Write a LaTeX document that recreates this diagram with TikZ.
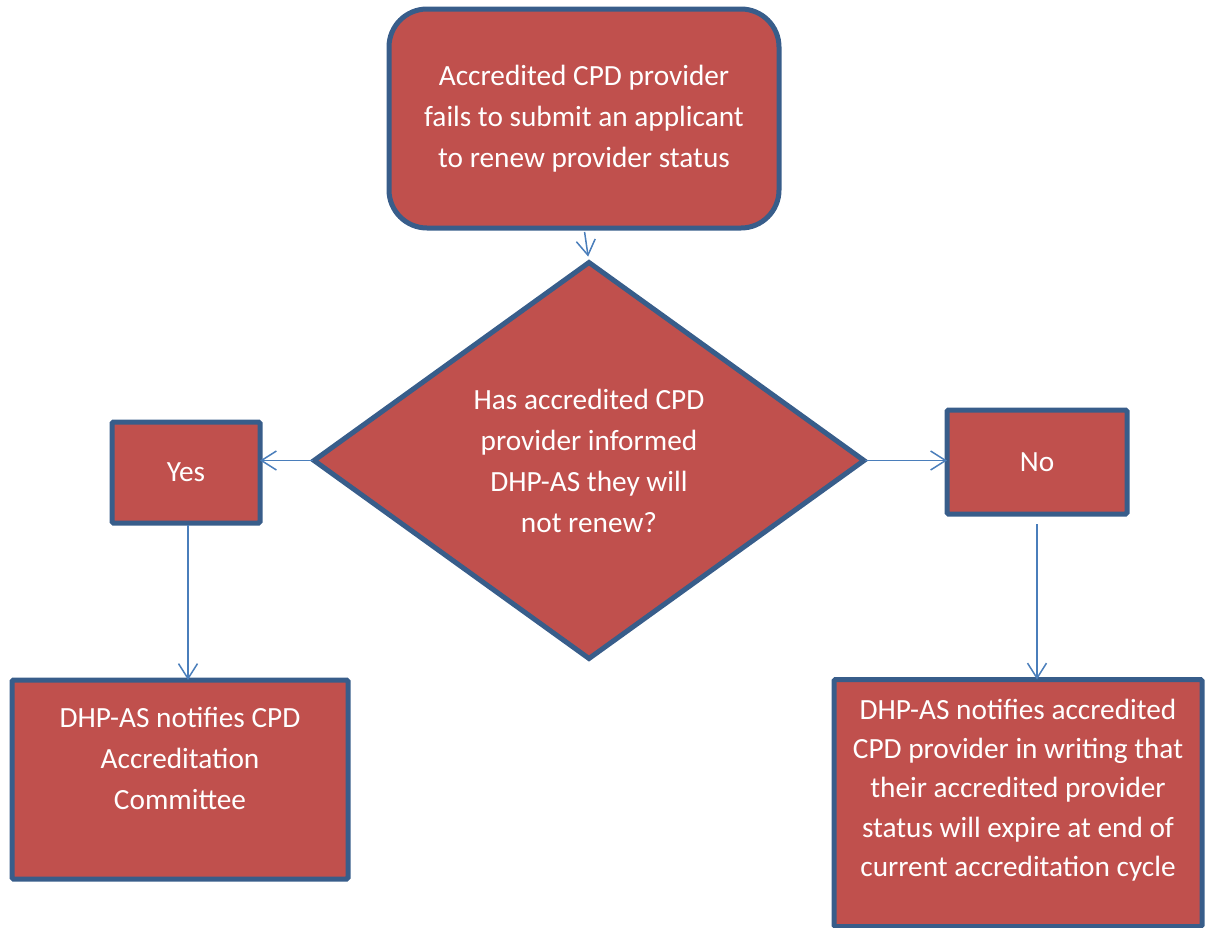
\documentclass[tikz,border=0pt]{standalone}
\usepackage{fontspec}
\setmainfont{Carlito}
\usetikzlibrary{shapes.geometric,arrows.meta}
\definecolor{boxfill}{RGB}{192,80,77}
\definecolor{boxline}{RGB}{56,93,138}
\definecolor{arrline}{RGB}{74,126,187}
\begin{document}
\begin{tikzpicture}[x=1pt,y=-1pt,
  every node/.style={outer sep=0pt, inner sep=0pt},
  txt/.style={text=white, font=\fontsize{29.3}{41}\selectfont, align=center},
  tighttxt/.style={text=white, font=\fontsize{29.3}{39.3}\selectfont, align=center},
  boxbase/.style={draw=boxline, fill=boxfill, line width=5pt},
  rbox/.style={boxbase, rectangle, rounded corners=1.5pt},
  startbox/.style={boxbase, rectangle, rounded corners=38pt},
  decision/.style={boxbase, diamond},
  arr/.style={draw=arrline, line width=1.5pt, -{Straight Barb[length=15pt,width=19pt,line width=1.5pt]}}
]
\useasboundingbox (0,0) rectangle (1212,927);

\node[startbox, minimum width=390, minimum height=219, txt] (start) at (584,118.5)
  {Accredited CPD provider\\fails to submit an applicant\\to renew provider status};

\node[decision, minimum width=550, minimum height=396, txt] (dia) at (589,460.5)
  {Has accredited CPD\\provider informed\\DHP-AS they will\\not renew?};

\node[rbox, minimum width=148, minimum height=101, txt] (yes) at (186,472.5) {Yes};
\node[rbox, minimum width=180, minimum height=104, txt] (no) at (1037,462) {No};

\node[rbox, minimum width=336, minimum height=199] (left) at (180,779.5) {};
\node[txt] (lefttxt) at (180,758) {DHP-AS notifies CPD\\Accreditation\\Committee};

\node[rbox, minimum width=368, minimum height=247] (right) at (1018,803) {};
\node[tighttxt] (righttxt) at (1018,790) {DHP-AS notifies accredited\\CPD provider in writing that\\their accredited provider\\status will expire at end of\\current accreditation cycle};

\draw[arr, shorten <=4pt, shorten >=6pt] (start.south) -- (dia.north);
\draw[arr, shorten <=1pt] (dia.west) -- (dia.west -| yes.east);
\draw[arr, shorten <=1pt] (dia.east) -- (dia.east -| no.west);
\draw[arr, shorten <=2pt] ([xshift=2pt]yes.south) -- ([xshift=2pt]yes.south |- left.north);
\draw[arr, shorten <=10pt] (no.south) -- (no.south |- right.north);
\end{tikzpicture}
\end{document}
